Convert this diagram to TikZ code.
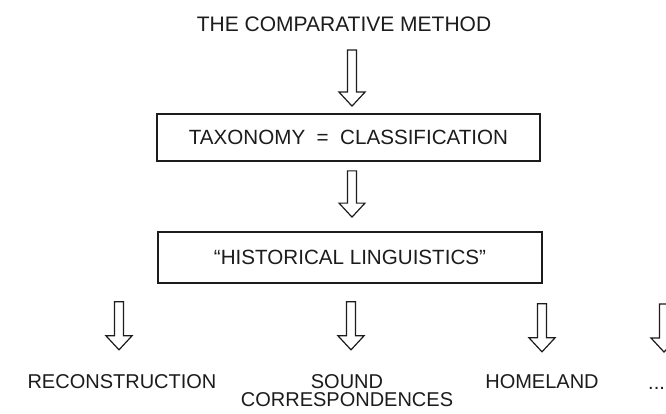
\documentclass[tikz,border=0pt]{standalone}
\usepackage{fontspec}
\setmainfont{Liberation Sans}
\usetikzlibrary{calc}
\definecolor{ink}{HTML}{1C1C1C}
\tikzset{
  lbl/.style={inner sep=0pt, text=ink, font=\fontsize{20}{24}\selectfont},
  titlelbl/.style={inner sep=0pt, text=ink, font=\fontsize{21}{24}\selectfont},
  boxnode/.style={draw=ink, line width=1.8pt, inner sep=0pt, text=ink,
     font=\fontsize{20.6}{24}\selectfont},
  blockarrow/.style={draw=ink, line width=1.2pt, line join=miter, fill=white}
}
\newcommand{\hollowarrow}[2]{%
  \draw[blockarrow] let \p1=(#1), \p2=(#2) in
    (\x1-4.5pt,\y1) -- (\x1+4.5pt,\y1) -- (\x1+4.5pt,\y2+14pt) --
    (\x1+13pt,\y2+14pt) -- (\x1,\y2) -- (\x1-13pt,\y2+14pt) --
    (\x1-4.5pt,\y2+14pt) -- cycle;}
\begin{document}
\begin{tikzpicture}[x=1pt,y=-1pt]
  \clip (0,0) rectangle (666,414);
  \fill[white] (0,0) rectangle (666,414);

  % title and boxes
  \node[titlelbl, anchor=base] (title) at (344,31.5) {THE COMPARATIVE METHOD};
  \node[boxnode, minimum width=383pt, minimum height=47pt] (tax) at (348.5,137.5)
     {TAXONOMY\ \ =\ \ CLASSIFICATION};
  \node[boxnode, minimum width=384pt, minimum height=51pt] (hist) at (350,257.5)
     {``HISTORICAL LINGUISTICS''};

  % bottom labels
  \node[lbl, anchor=base] (recon) at (122,388) {RECONSTRUCTION};
  \node[lbl, anchor=base] (sound) at (347,388) {SOUND};
  \node[lbl, anchor=base] (corr) at (347,406) {CORRESPONDENCES};
  \node[lbl, anchor=base] (home) at (542,388) {HOMELAND};
  \node[lbl, anchor=base west] (more) at (648,389) {...};

  % arrow end points
  \coordinate (a1s) at ($(title.south)+(8,18)$);
  \coordinate (a1e) at ($(tax.north)+(3.5,-7)$);
  \coordinate (a2s) at ($(tax.south)+(3.5,9)$);
  \coordinate (a2e) at ($(hist.north)+(2,-14)$);
  \coordinate (b1s) at ($(recon.north)+(-3,-72)$);
  \coordinate (b1e) at ($(recon.north)+(-3,-24)$);
  \coordinate (b2s) at ($(sound.north)+(4,-72)$);
  \coordinate (b2e) at ($(sound.north)+(4,-24)$);
  \coordinate (b3s) at ($(home.north)+(0,-70)$);
  \coordinate (b3e) at ($(home.north)+(0,-22)$);
  \coordinate (b4s) at (664,304);
  \coordinate (b4e) at (664,352);

  \hollowarrow{a1s}{a1e}
  \hollowarrow{a2s}{a2e}
  \hollowarrow{b1s}{b1e}
  \hollowarrow{b2s}{b2e}
  \hollowarrow{b3s}{b3e}
  \hollowarrow{b4s}{b4e}
\end{tikzpicture}
\end{document}
